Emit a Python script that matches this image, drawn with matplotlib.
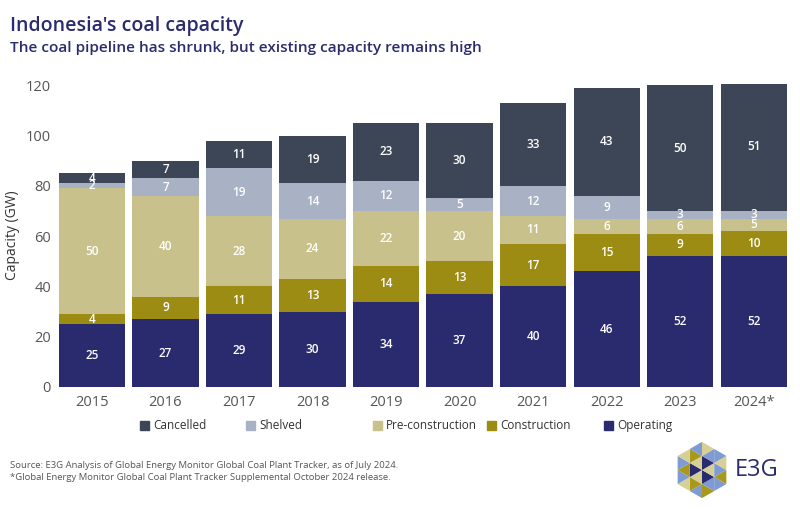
import numpy as np
import matplotlib
matplotlib.use("Agg")
import matplotlib.pyplot as plt
from matplotlib.patches import Polygon, Rectangle

plt.rcParams['font.family'] = ['Open Sans', 'DejaVu Sans']

# Data (GW)
years = ['2015', '2016', '2017', '2018', '2019', '2020', '2021', '2022', '2023', '2024*']
operating = [25, 27, 29, 30, 34, 37, 40, 46, 52, 52]
construction = [4, 9, 11, 13, 14, 13, 17, 15, 9, 10]
pre_construction = [50, 40, 28, 24, 22, 20, 11, 6, 6, 5]
shelved = [2, 7, 19, 14, 12, 5, 12, 9, 3, 3]
cancelled = [4, 7, 11, 19, 23, 30, 33, 43, 50, 51]

series = [
    ('Operating', operating, '#2a2a6e'),
    ('Construction', construction, '#9c8c14'),
    ('Pre-construction', pre_construction, '#c8c18b'),
    ('Shelved', shelved, '#a9b1c4'),
    ('Cancelled', cancelled, '#3d4656'),
]

NAVY = '#2b2c6e'
GREY = '#555555'

fig = plt.figure(figsize=(8, 5.09), dpi=100)
ax = fig.add_axes([0.069, 0.2397, 0.919, 0.595])

x = np.arange(len(years))
bottom = np.zeros(len(years))
for name, vals, color in series:
    vals = np.array(vals, dtype=float)
    ax.bar(x, vals, 0.9, bottom=bottom, color=color, label=name)
    for xi, b, v in zip(x, bottom, vals):
        ax.text(xi, b + v / 2, f"{int(v)}", ha='center', va='center',
                color='white', fontsize=8.5, fontweight='semibold')
    bottom += vals

ax.set_xlim(-0.5, len(years) - 0.5)
ax.set_ylim(0, 120.5)
ax.set_yticks(range(0, 121, 20))
ax.set_xticks(x)
ax.set_xticklabels(years)
ax.tick_params(length=0, labelsize=10.5, labelcolor=GREY)
ax.tick_params(axis='x', pad=6)
ax.tick_params(axis='y', pad=3)
for s in ax.spines.values():
    s.set_visible(False)
ax.set_ylabel('Capacity (GW)', fontsize=10, color='#333333')
ax.yaxis.set_label_coords(-0.048, 0.5)

# legend drawn by hand to match spacing
leg_items = [('Cancelled', '#3d4656', 140), ('Shelved', '#a9b1c4', 246),
             ('Pre-construction', '#c8c18b', 373), ('Construction', '#9c8c14', 487),
             ('Operating', '#2a2a6e', 604)]
for name, color, px in leg_items:
    fig.patches.append(Rectangle((px / 800, (509 - 430) / 509), 9 / 800, 9 / 509,
                                 transform=fig.transFigure, color=color))
    fig.text((px + 13) / 800, (509 - 425.5) / 509, name, fontsize=8.5,
             color='#333333', va='center')

# titles
fig.text(10 / 800, 1 - 26 / 509, "Indonesia's coal capacity", fontsize=14,
         color=NAVY, va='center', fontweight='semibold')
fig.text(10 / 800, 1 - 48 / 509,
         "The coal pipeline has shrunk, but existing capacity remains high",
         fontsize=11.1, color=NAVY, va='center', fontweight='semibold')

# footer
fig.text(10 / 800, 1 - 465 / 509,
         "Source: E3G Analysis of Global Energy Monitor Global Coal Plant Tracker, as of July 2024.",
         fontsize=6.8, color=GREY, va='center')
fig.text(10 / 800, 1 - 478 / 509,
         "*Global Energy Monitor Global Coal Plant Tracker Supplemental October 2024 release.",
         fontsize=6.8, color=GREY, va='center')

# logo: hexagon split into triangles
lax = fig.add_axes([676 / 800, 8 / 509, 52 / 800, 62 / 509])
lax.set_xlim(-1.85, 1.85)
lax.set_ylim(-2.1, 2.1)
lax.set_aspect('equal')
lax.axis('off')
r = np.sqrt(3) / 2
tris = []
for j in range(-2, 2):
    for i in range(-4, 4):
        off = 0.5 * j
        up = [(i + off, j * r), (i + off + 1, j * r), (i + off + 0.5, (j + 1) * r)]
        dn = [(i + off + 1, j * r), (i + off + 0.5, (j + 1) * r), (i + off + 1.5, (j + 1) * r)]
        for t in (up, dn):
            c = np.mean(t, axis=0)
            if np.sqrt(3) * abs(c[0]) + abs(c[1]) <= 2 * np.sqrt(3) - 1e-6:
                tris.append([(-py, px) for px, py in t])
logo_cols = ['#7f9bd3', '#d6cf96', '#2a2a6e', '#a8991c']
for k, t in enumerate(tris):
    c = np.mean(t, axis=0)
    d = np.hypot(*c)
    if d < 0.8:
        col = logo_cols[2] if k % 2 else logo_cols[1]
    else:
        col = logo_cols[(k * 3) % 4 if (k * 3) % 4 != 2 else 0]
    lax.add_patch(Polygon(t, closed=True, color=col, lw=0))

fig.text(735 / 800, 1 - 470 / 509, "E3G", fontsize=17, color=NAVY, va='center')

fig.savefig('out.png', dpi=100, facecolor='white')
